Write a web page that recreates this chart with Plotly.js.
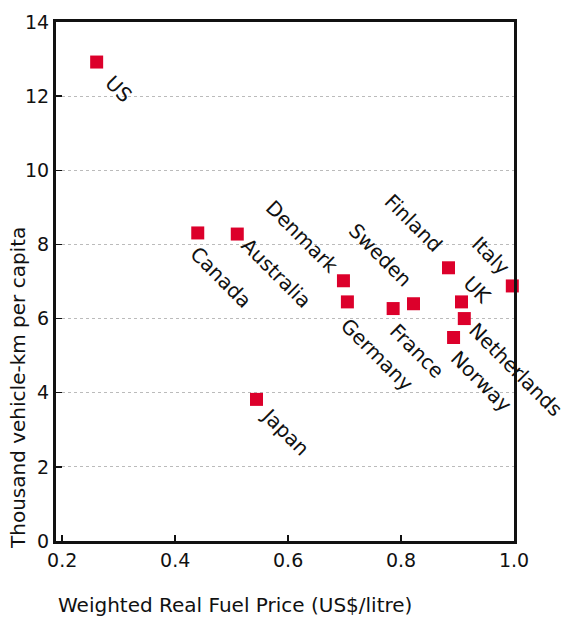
<!DOCTYPE html>
<html>
<head>
<meta charset="utf-8">
<script src="https://cdn.plot.ly/plotly-3.0.1.min.js"></script>
<style>html,body{margin:0;padding:0;background:#fff;}#chart{width:568px;height:619px;}</style>
</head>
<body>
<div id="chart"></div>
<script>
const countries = ["US","Canada","Australia","Japan","Denmark","Germany","France","Sweden","Finland","UK","Netherlands","Norway","Italy"];
const fuelPrice = [0.261,0.440,0.510,0.544,0.698,0.705,0.786,0.822,0.884,0.907,0.912,0.893,0.997];
const vehicleKm = [12.92,8.31,8.28,3.82,7.02,6.45,6.27,6.40,7.37,6.45,6.00,5.49,6.88];
// label offsets of text centre from point, in pixels (dx right, dy down)
const labelDx = [22,23,39,29,-41,30,24,-33,-35,16,52,27,-21];
const labelDy = [27,44,39,33,-44,53,42,-49,-45,-12,51,44,-30];
const xTicks = [0.2,0.4,0.6,0.8,1.0];
const yTicks = [0,2,4,6,8,10,12,14];

const FONT = "DejaVu Sans, sans-serif";
const red = "#dc002b";

const trace = {
  type: "scatter", mode: "markers",
  x: fuelPrice, y: vehicleKm,
  marker: {symbol: "square", size: 13, color: red, line: {width: 0}},
  cliponaxis: false, hoverinfo: "skip"
};

const annotations = countries.map((c, i) => ({
  x: fuelPrice[i], y: vehicleKm[i], xref: "x", yref: "y",
  text: c, showarrow: false, textangle: 45,
  xanchor: "center", yanchor: "middle",
  xshift: labelDx[i], yshift: -labelDy[i],
  font: {family: FONT, size: 20, color: "#111"}
}));
annotations.push({
  xref: "paper", yref: "paper", x: 0, y: 0, xanchor: "left", yanchor: "middle",
  xshift: 0, yshift: -64, showarrow: false,
  text: "Weighted Real Fuel Price (US$/litre)",
  font: {family: FONT, size: 20, color: "#111"}
});
annotations.push({
  xref: "paper", yref: "paper", x: 0, y: 0, xanchor: "center", yanchor: "middle",
  xshift: -38, yshift: 153, showarrow: false, textangle: -90,
  text: "Thousand vehicle-km per capita",
  font: {family: FONT, size: 20, color: "#111"}
});

const layout = {
  width: 568, height: 619,
  margin: {l: 56, r: 54, t: 22, b: 78},
  paper_bgcolor: "#fff", plot_bgcolor: "#fff",
  showlegend: false,
  font: {family: FONT, size: 19, color: "#111"},
  xaxis: {
    range: [0.189, 1.0], tickvals: xTicks, ticktext: xTicks.map(v => v.toFixed(1)),
    ticks: "inside", ticklen: 6, tickwidth: 1.5, tickcolor: "#111",
    showgrid: false, zeroline: false,
    showline: true, linewidth: 3, linecolor: "#111", mirror: true,
    tickfont: {family: FONT, size: 19, color: "#111"}
  },
  yaxis: {
    range: [0, 14], tickvals: yTicks,
    ticks: "inside", ticklen: 6, tickwidth: 1.5, tickcolor: "#111",
    showgrid: true, gridcolor: "#bbb", griddash: "dot", gridwidth: 1,
    zeroline: false,
    showline: true, linewidth: 3, linecolor: "#111", mirror: true,
    tickfont: {family: FONT, size: 19, color: "#111"}
  },
  annotations: annotations
};

Plotly.newPlot("chart", [trace], layout, {staticPlot: true, displayModeBar: false});
</script>
</body>
</html>
